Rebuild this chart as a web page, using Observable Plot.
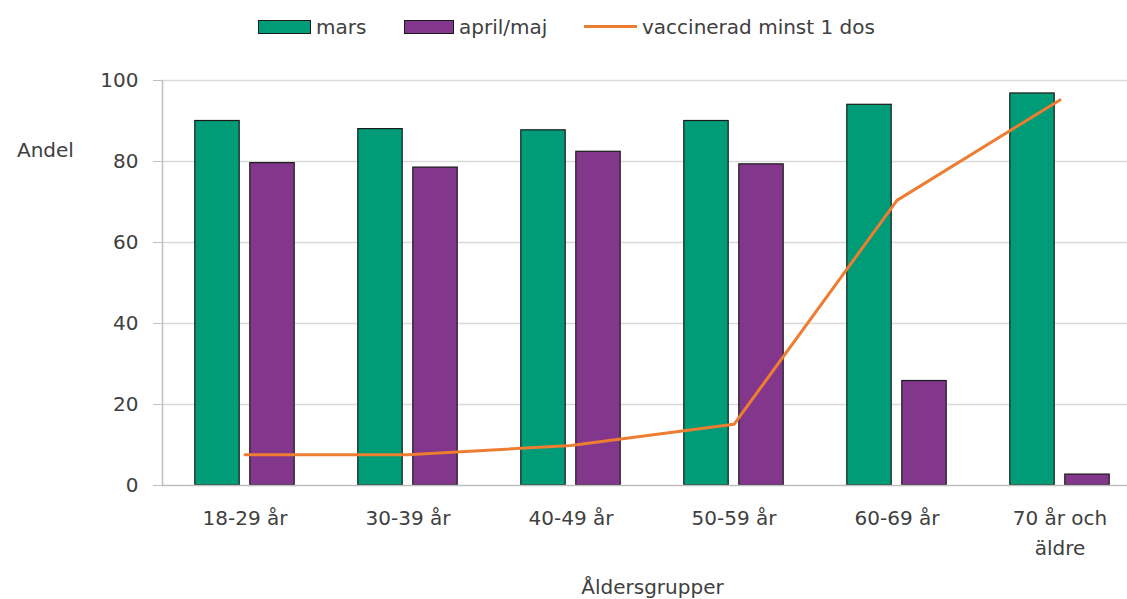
<!DOCTYPE html>
<html>
<head>
<meta charset="utf-8">
<script src="https://cdn.jsdelivr.net/npm/d3@7"></script>
<script src="https://cdn.jsdelivr.net/npm/@observablehq/plot@0.6"></script>
<style>
  html, body { margin: 0; padding: 0; background: #fff; overflow: hidden; }
  #wrap { position: relative; width: 1127px; height: 599px; font-family: "DejaVu Sans", sans-serif; color: #404040; }
  #wrap svg { position: absolute; left: 0; top: 0; }
  .lg { position: absolute; font-size: 20px; line-height: 20px; }
  .sw { position: absolute; box-sizing: border-box; border: 1px solid #1a1a1a; }
</style>
</head>
<body>
<div id="wrap">
  <div class="sw" style="left:258px;top:20px;width:53px;height:14px;background:#009B77"></div>
  <div class="lg" style="left:316px;top:17px">mars</div>
  <div class="sw" style="left:404px;top:20px;width:50px;height:14px;background:#82368C"></div>
  <div class="lg" style="left:459px;top:17px">april/maj</div>
  <div style="position:absolute;left:584px;top:25px;width:53px;height:3px;background:#ED7D31"></div>
  <div class="lg" style="left:642px;top:17px">vaccinerad minst 1 dos</div>
  <div class="lg" style="left:17px;top:140px">Andel</div>
  <div class="lg" style="left:0;width:1305px;text-align:center;top:577px">Åldersgrupper</div>
</div>
<script>
const categories = ["18-29 år", "30-39 år", "40-49 år", "50-59 år", "60-69 år", "70 år och äldre"];
const tickLabels = ["18-29 år", "30-39 år", "40-49 år", "50-59 år", "60-69 år", "70 år och\näldre"];
const mars = [90, 88, 87.7, 90, 94, 96.8];
const aprilMaj = [79.6, 78.5, 82.4, 79.3, 25.8, 2.7];
const vaccinerad = [7.6, 7.6, 9.9, 15.1, 70.4, 95.2];
const yTicks = [0, 20, 40, 60, 80, 100];

const data = categories.map((c, i) => ({cat: c, mars: mars[i], april: aprilMaj[i], vacc: vaccinerad[i]}));
const labelOf = new Map(categories.map((c, i) => [c, tickLabels[i]]));

const chart = Plot.plot({
  width: 1127,
  height: 599,
  marginTop: 80,
  marginBottom: 114,
  marginLeft: 162,
  marginRight: 0,
  style: {fontFamily: "DejaVu Sans", fontSize: "20px", color: "#404040", background: "transparent", overflow: "visible"},
  x: {type: "band", domain: categories, range: [161, 1142], padding: 0},
  y: {domain: [0, 100], ticks: yTicks},
  marks: [
    Plot.ruleY(yTicks.filter(d => d > 0), {stroke: "#d9d9d9", strokeWidth: 1.5}),
    Plot.barY(data, {x: "cat", y: "mars", fill: "#009B77", stroke: "#1a1a1a", strokeWidth: 1.2, insetLeft: 59.3, insetRight: 59.3, dx: -27.5}),
    Plot.barY(data, {x: "cat", y: "april", fill: "#82368C", stroke: "#1a1a1a", strokeWidth: 1.2, insetLeft: 59.3, insetRight: 59.3, dx: 27.5}),
    Plot.ruleY([0], {stroke: "#bfbfbf", strokeWidth: 1.5}),
    Plot.frame({anchor: "left", stroke: "#bfbfbf", strokeWidth: 1.5}),
    Plot.lineY(data, {x: "cat", y: "vacc", stroke: "#ED7D31", strokeWidth: 3}),
    Plot.axisY({ticks: yTicks, tickSize: 9, tickPadding: 15, stroke: "#bfbfbf", fill: "#404040", label: null}),
    Plot.axisX({tickSize: 0, tickPadding: 18, tickFormat: d => labelOf.get(d), lineHeight: 1.5, fill: "#404040", label: null})
  ]
});
document.getElementById("wrap").prepend(chart);
</script>
</body>
</html>
